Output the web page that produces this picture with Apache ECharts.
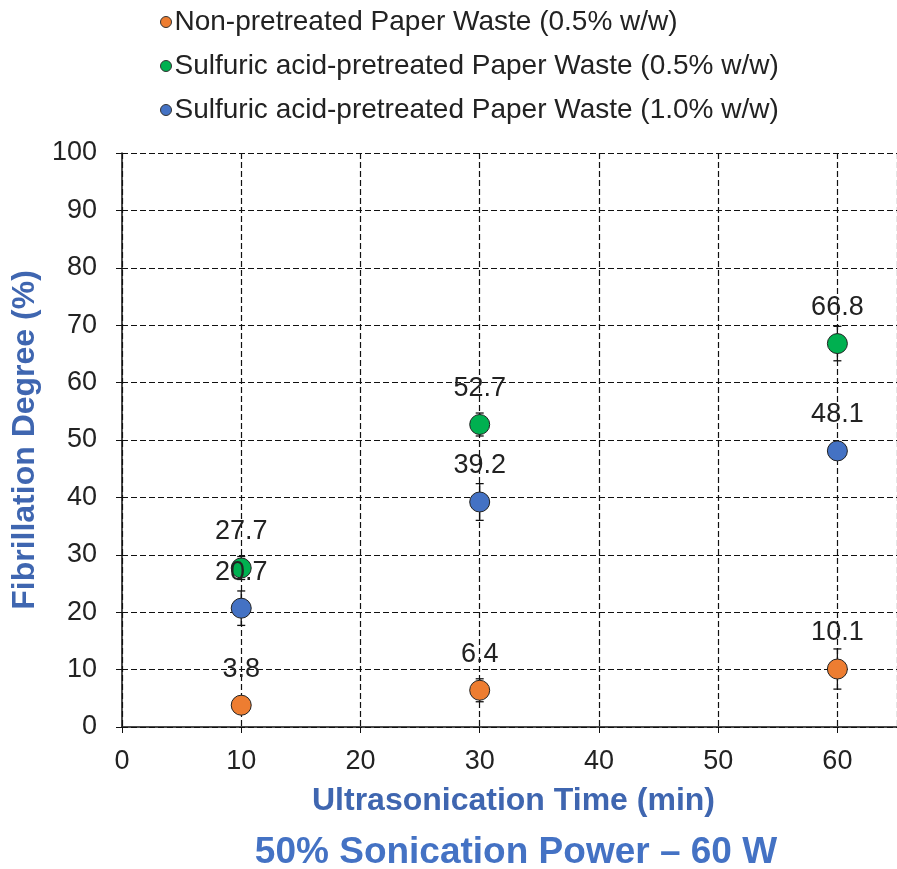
<!DOCTYPE html>
<html>
<head>
<meta charset="utf-8">
<script src="https://cdn.jsdelivr.net/npm/echarts@6/dist/echarts.min.js"></script>
<style>
  html, body { margin: 0; padding: 0; background: #fff; }
  #chart { width: 897px; height: 869px; }
</style>
</head>
<body>
<div id="chart"></div>
<script>
/* fibrillation degree vs ultrasonication time */
var times = [10, 30, 60];
var seriesNames = [
  'Non-pretreated Paper Waste (0.5% w/w)',
  'Sulfuric acid-pretreated Paper Waste (0.5% w/w)',
  'Sulfuric acid-pretreated Paper Waste (1.0% w/w)'
];
var nonPretreated = [3.8, 6.4, 10.1];
var acid05 = [27.7, 52.7, 66.8];
var acid10 = [20.7, 39.2, 48.1];
var errNonPretreated = [1.0, 2.0, 3.5];
var errAcid05 = [2.0, 2.0, 3.0];
var errAcid10 = [3.0, 3.2, 1.5];
var colors = ['#ED7D31', '#00B050', '#4472C4'];

var chart = echarts.init(document.getElementById('chart'));
var font = '"Liberation Sans", Arial, sans-serif';

function points(vals) {
  var out = [];
  for (var i = 0; i < times.length; i++) {
    out.push([times[i], vals[i]]);
  }
  return out;
}

function errRows(vals, errs) {
  var out = [];
  for (var i = 0; i < times.length; i++) {
    out.push([times[i], vals[i] - errs[i], vals[i] + errs[i]]);
  }
  return out;
}

function errorBars(vals, errs) {
  return {
    type: 'custom',
    silent: true,
    z: 1,
    data: errRows(vals, errs),
    renderItem: function(params, api) {
      var lo = api.coord([api.value(0), api.value(1)]);
      var hi = api.coord([api.value(0), api.value(2)]);
      var w = 4;
      var st = { stroke: '#111', lineWidth: 1.3 };
      return {
        type: 'group',
        children: [
          { type: 'line', shape: { x1: lo[0], y1: lo[1], x2: hi[0], y2: hi[1] }, style: st },
          { type: 'line', shape: { x1: lo[0] - w, y1: lo[1], x2: lo[0] + w, y2: lo[1] }, style: st },
          { type: 'line', shape: { x1: hi[0] - w, y1: hi[1], x2: hi[0] + w, y2: hi[1] }, style: st }
        ]
      };
    }
  };
}

function scatter(name, vals, color) {
  return {
    name: name,
    type: 'scatter',
    z: 3,
    symbol: 'circle',
    symbolSize: 20,
    itemStyle: { color: color, opacity: 1, borderColor: '#222', borderWidth: 1 },
    label: {
      show: true,
      position: 'top',
      distance: 12,
      fontFamily: font,
      fontSize: 27,
      color: '#222',
      formatter: function(p) { return p.value[1].toFixed(1); }
    },
    data: points(vals)
  };
}

var gridLine = { show: true, lineStyle: { color: '#111', type: [6, 3], width: 1.2 } };

chart.setOption({
  animation: false,
  backgroundColor: '#fff',
  title: {
    text: '50% Sonication Power – 60 W',
    left: 511,
    textAlign: 'center',
    top: 829,
    textStyle: { fontFamily: font, fontSize: 37, fontWeight: 'bold', color: '#4472C4' }
  },
  legend: {
    orient: 'vertical',
    left: 155,
    top: 3,
    itemWidth: 11,
    itemHeight: 11,
    itemGap: 16,
    icon: 'circle',
    itemStyle: { borderColor: '#333', borderWidth: 1 },
    textStyle: { fontFamily: font, fontSize: 28, lineHeight: 28, color: '#222', padding: [0, 0, 0, -2] },
    data: seriesNames
  },
  grid: { left: 122, right: -9, top: 153, bottom: 142, containLabel: false },
  xAxis: {
    type: 'value',
    min: 0,
    max: 65,
    interval: 10,
    name: 'Ultrasonication Time (min)',
    nameLocation: 'middle',
    nameGap: 58,
    nameTextStyle: { fontFamily: font, fontSize: 32, fontWeight: 'bold', color: '#3F66B0', padding: [0, 0, 0, 8] },
    axisLine: { show: true, lineStyle: { color: '#111', width: 1.5 } },
    axisTick: { show: true, length: 6, lineStyle: { color: '#111' } },
    axisLabel: { fontFamily: font, fontSize: 27, color: '#222', margin: 21, showMaxLabel: false },
    splitLine: gridLine
  },
  yAxis: {
    type: 'value',
    min: 0,
    max: 100,
    interval: 10,
    name: 'Fibrillation Degree (%)',
    nameLocation: 'middle',
    nameGap: 77,
    nameTextStyle: { fontFamily: font, fontSize: 32, fontWeight: 'bold', color: '#3F66B0' },
    axisLine: { show: true, lineStyle: { color: '#111', width: 1.5 } },
    axisTick: { show: true, length: 6, lineStyle: { color: '#111' } },
    axisLabel: { fontFamily: font, fontSize: 27, color: '#222', margin: 25 },
    splitLine: gridLine
  },
  series: [
    errorBars(nonPretreated, errNonPretreated),
    errorBars(acid05, errAcid05),
    errorBars(acid10, errAcid10),
    scatter(seriesNames[0], nonPretreated, colors[0]),
    scatter(seriesNames[1], acid05, colors[1]),
    scatter(seriesNames[2], acid10, colors[2])
  ]
});
</script>
</body>
</html>
